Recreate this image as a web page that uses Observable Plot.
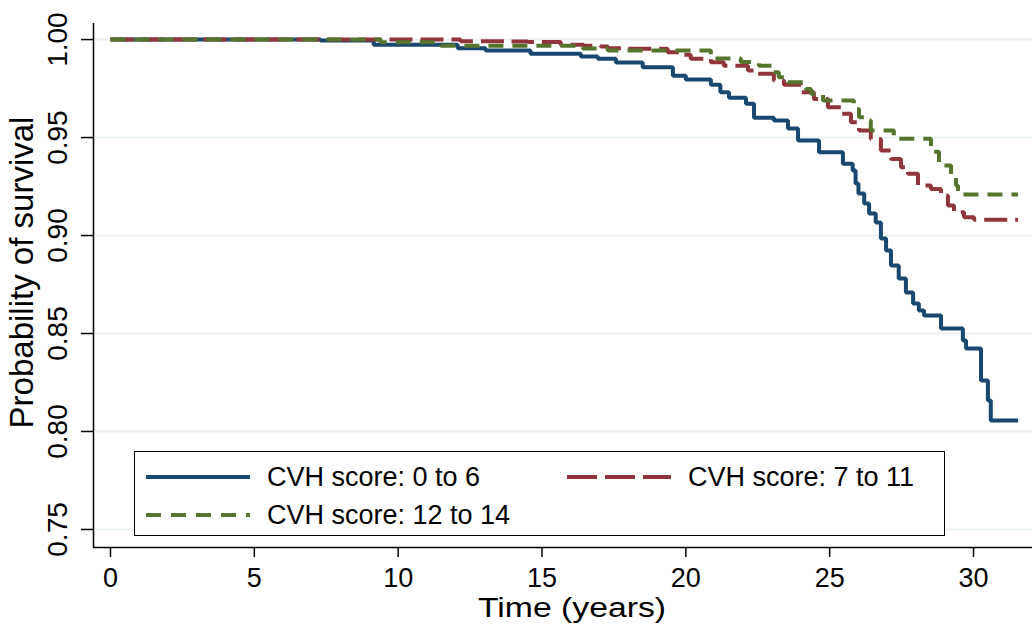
<!DOCTYPE html>
<html>
<head>
<meta charset="utf-8">
<script src="https://cdn.jsdelivr.net/npm/d3@7"></script>
<script src="https://cdn.jsdelivr.net/npm/@observablehq/plot@0.6"></script>
<style>
  body { margin: 0; background: #fff; }
  #wrap { position: relative; width: 1034px; height: 630px; font-family: "Liberation Sans", Arial, Helvetica, sans-serif; }
  #legend { position: absolute; left: 134px; top: 451px; width: 809px; height: 83px; border: 1.5px solid #000; background: #fff; }
  .item { position: absolute; display: flex; align-items: center; height: 34px; font-size: 27px; white-space: nowrap; color: #000; }
  .item svg { margin-right: 17px; }
</style>
</head>
<body>
<div id="wrap"></div>
<script>
// ---- data ----
const groups = ["CVH score: 0 to 6", "CVH score: 7 to 11", "CVH score: 12 to 14"];
const colors = ["#1a476f", "#90353b", "#55752f"];
const dashes = [null, "23,8", "15,9"];

const timeLow = [0, 7.3, 9.15, 12.07, 13.04, 14.6, 16.35, 16.94, 17.57, 18.5, 19.55, 20.0, 20.87, 21.2, 21.5, 22.09, 22.37, 23.06, 23.55, 23.9, 24.63, 25.46, 25.8, 25.9, 26.0, 26.2, 26.37, 26.6, 26.78, 26.96, 27.13, 27.4, 27.65, 27.9, 28.1, 28.28, 28.87, 29.63, 29.74, 30.26, 30.5, 30.6, 31.55];
const survLow = [1.000, 0.9995, 0.9973, 0.9956, 0.9944, 0.9927, 0.9913, 0.9902, 0.9883, 0.9859, 0.9816, 0.9796, 0.9770, 0.9731, 0.9703, 0.9672, 0.9601, 0.9587, 0.9546, 0.9485, 0.9425, 0.9366, 0.9332, 0.9265, 0.9214, 0.9163, 0.9112, 0.9066, 0.8985, 0.8923, 0.8847, 0.8781, 0.8709, 0.8653, 0.8617, 0.8592, 0.8526, 0.8464, 0.8423, 0.8260, 0.8158, 0.8056, 0.8056];

const timeMid = [0, 12.17, 13.81, 14.5, 15.65, 16.45, 17.04, 17.29, 17.81, 19.37, 19.83, 20.17, 20.87, 21.32, 22.16, 22.37, 23.06, 23.41, 24.0, 24.45, 24.94, 25.39, 25.74, 26.02, 26.43, 26.78, 27.13, 27.48, 27.72, 28.07, 28.52, 28.87, 29.11, 29.32, 29.67, 30.02, 31.55];
const survMid = [1.000, 0.9992, 0.9990, 0.9987, 0.9974, 0.9969, 0.9964, 0.9956, 0.9953, 0.9935, 0.9923, 0.9902, 0.9884, 0.9867, 0.9842, 0.9825, 0.9791, 0.9770, 0.9731, 0.9697, 0.9655, 0.9621, 0.9578, 0.9536, 0.9493, 0.9434, 0.9391, 0.9349, 0.9315, 0.9255, 0.9238, 0.9204, 0.9153, 0.9119, 0.9093, 0.9080, 0.9080];

const timeHigh = [0, 9.39, 11.48, 16.42, 17.29, 20.87, 21.91, 22.54, 23.06, 23.23, 23.55, 24.17, 24.35, 24.77, 25.84, 26.02, 26.33, 26.43, 27.23, 28.52, 28.8, 29.22, 29.39, 29.46, 31.55];
const survHigh = [1.000, 0.9986, 0.9969, 0.9955, 0.9944, 0.9903, 0.9886, 0.9867, 0.9833, 0.9808, 0.9782, 0.9748, 0.9723, 0.9689, 0.9646, 0.9604, 0.9587, 0.9536, 0.9494, 0.9427, 0.9357, 0.9298, 0.9255, 0.9209, 0.9209];

const xTicks = [0, 5, 10, 15, 20, 25, 30];
const yTicks = [0.75, 0.80, 0.85, 0.90, 0.95, 1.00];
const xTitle = "Time (years)";
const yTitle = "Probability of survival";

// ---- build table ----
const series = [[timeLow, survLow], [timeMid, survMid], [timeHigh, survHigh]];
const rows = [];
series.forEach(([T, S], i) => T.forEach((t, j) => rows.push({ group: groups[i], time: t, surv: S[j] })));

const xDomain = [-0.59, 32.05];
const yDomain = [0.7408, 1.0082];
const font = '"Liberation Sans", Arial, Helvetica, sans-serif';

const lineMarks = groups.map((g, i) =>
  Plot.line(rows.filter(d => d.group === g), {
    x: "time", y: "surv", curve: "step-after",
    stroke: colors[i], strokeWidth: 4,
    strokeDasharray: dashes[i] || undefined,
    strokeLinecap: "butt", strokeLinejoin: "miter"
  })
);

const chart = Plot.plot({
  width: 1034, height: 630,
  marginTop: 23, marginBottom: 83, marginLeft: 93, marginRight: 2,
  style: { fontFamily: font, fontSize: "27px", background: "white", color: "black", overflow: "visible" },
  x: { domain: xDomain },
  y: { domain: yDomain },
  marks: [
    Plot.gridY(yTicks, { stroke: "#eaf2f3", strokeOpacity: 1, strokeWidth: 2 }),
    Plot.axisX(xTicks, { tickSize: 10, tickPadding: 10, fontSize: 27, label: null, tickFormat: d => String(d), strokeWidth: 1.5 }),
    Plot.axisY(yTicks, { tickSize: 12, tickRotate: -90, tickPadding: 15, fontSize: 28, label: null, tickFormat: d3.format(".2f"), strokeWidth: 1.5 }),
    Plot.ruleX([xDomain[0]], { strokeWidth: 1.5 }),
    Plot.ruleY([yDomain[0]], { strokeWidth: 1.5 }),
    ...lineMarks,
    Plot.text([xTitle], { frameAnchor: "bottom", textAnchor: "middle", lineAnchor: "bottom", dx: 9, dy: 69, fontSize: 27, fill: "black" }),
    Plot.text([yTitle], { frameAnchor: "left", textAnchor: "middle", rotate: -90, dx: -71, dy: -13, fontSize: 33, fill: "black" })
  ]
});

// stretch the x title to the reference's wide lettering
d3.select(chart).selectAll("text")
  .filter(function () { return this.textContent === xTitle; })
  .attr("textLength", 188).attr("lengthAdjust", "spacingAndGlyphs");

const wrap = document.getElementById("wrap");
wrap.appendChild(chart);

// ---- legend ----
const legend = document.createElement("div");
legend.id = "legend";
const pos = [[11, 8], [432, 8], [11, 46]];
groups.forEach((g, i) => {
  const item = document.createElement("div");
  item.className = "item";
  item.style.left = pos[i][0] + "px";
  item.style.top = pos[i][1] + "px";
  const svg = d3.create("svg").attr("width", 104).attr("height", 10);
  svg.append("line").attr("x1", 0).attr("x2", 104).attr("y1", 5).attr("y2", 5)
    .attr("stroke", colors[i]).attr("stroke-width", 4)
    .attr("stroke-dasharray", i === 1 ? "30,8" : (i === 2 ? "15,10" : null));
  item.appendChild(svg.node());
  const span = document.createElement("span");
  span.textContent = g;
  item.appendChild(span);
  legend.appendChild(item);
});
wrap.appendChild(legend);
</script>
</body>
</html>
